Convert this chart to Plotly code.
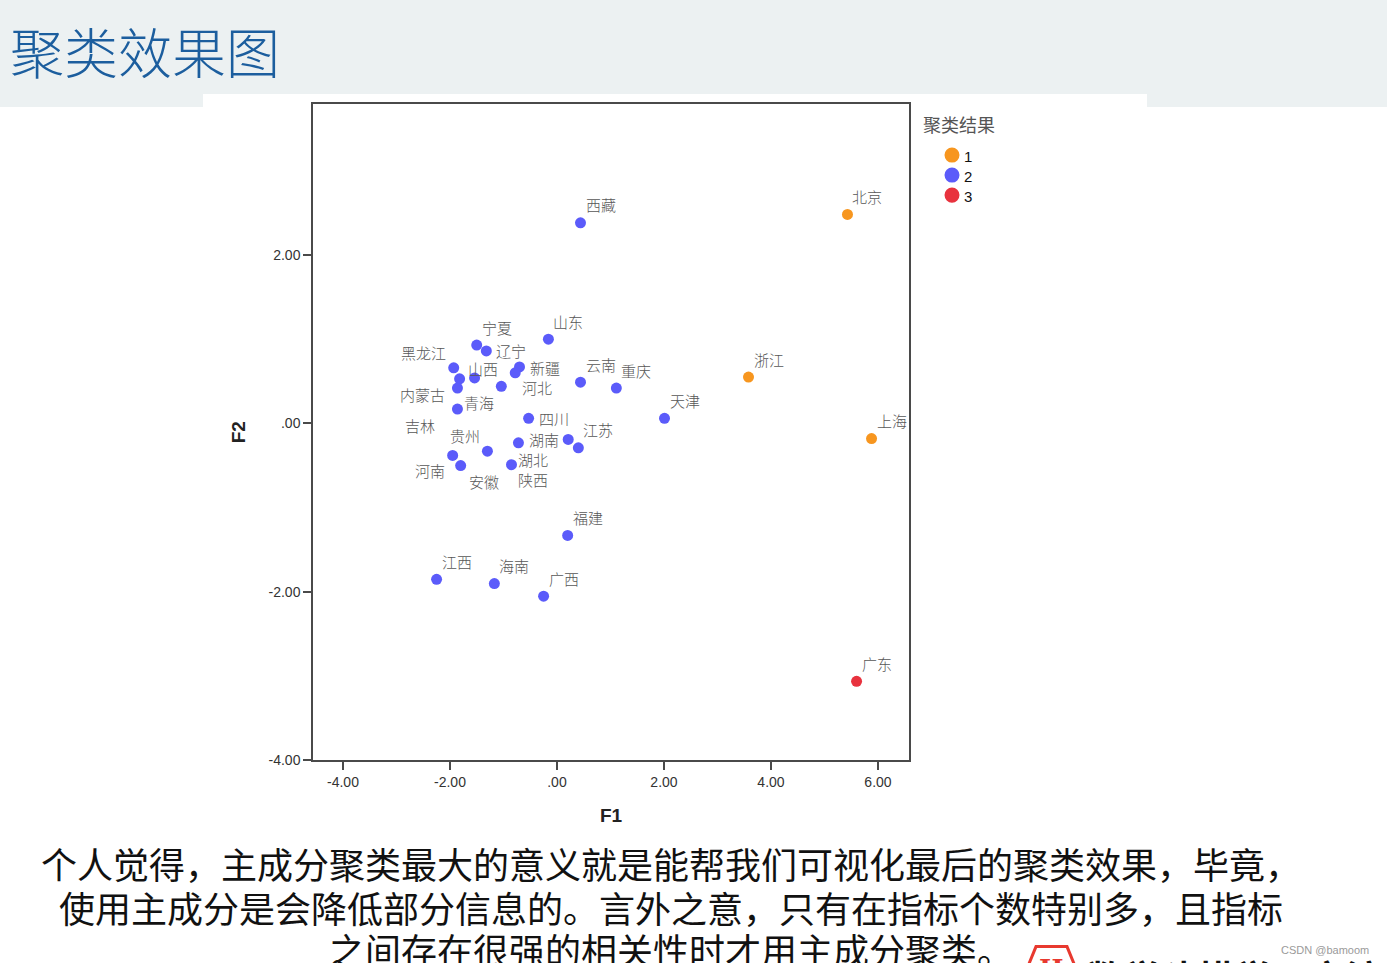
import plotly.graph_objects as go

# ---------------- data ----------------
provinces = ["北京", "浙江", "上海", "广东",
             "西藏", "天津", "福建", "江西", "海南", "广西",
             "宁夏", "辽宁", "山东", "黑龙江", "山西", "甘肃", "内蒙古", "青海",
             "新疆", "河北", "云南", "重庆", "吉林",
             "四川", "湖南", "江苏", "湖北", "贵州", "河南", "安徽", "陕西"]
f1 = [5.43, 3.58, 5.88, 5.60,
      0.44, 2.01, 0.20, -2.25, -1.17, -0.25,
      -1.50, -1.32, -0.16, -1.93, -1.82, -1.54, -1.86, -1.04,
      -0.70, -0.78, 0.44, 1.11, -1.86,
      -0.53, 0.21, 0.40, -0.72, -1.30, -1.95, -1.80, -0.85]
f2 = [2.48, 0.55, -0.18, -3.06,
      2.38, 0.06, -1.33, -1.85, -1.90, -2.05,
      0.93, 0.86, 1.00, 0.66, 0.53, 0.54, 0.42, 0.44,
      0.67, 0.60, 0.49, 0.42, 0.17,
      0.06, -0.19, -0.29, -0.23, -0.33, -0.38, -0.50, -0.49]
cluster = [1, 1, 1, 3,
           2, 2, 2, 2, 2, 2,
           2, 2, 2, 2, 2, 2, 2, 2,
           2, 2, 2, 2, 2,
           2, 2, 2, 2, 2, 2, 2, 2]
hidden_labels = {"甘肃"}

cluster_names = ["1", "2", "3"]
legend_title = "聚类结果"
x_tickvals = [-4, -2, 0, 2, 4, 6]
x_ticktext = ["-4.00", "-2.00", ".00", "2.00", "4.00", "6.00"]
y_tickvals = [2, 0, -2, -4]
y_ticktext = ["2.00", ".00", "-2.00", "-4.00"]

title_text = "聚类效果图"
body_lines = ["个人觉得，主成分聚类最大的意义就是能帮我们可视化最后的聚类效果，毕竟，",
              "使用主成分是会降低部分信息的。言外之意，只有在指标个数特别多，且指标",
              "之间存在很强的相关性时才用主成分聚类。"]

# ---------------- style ----------------
W, H = 1387, 963
K = 1.009  # vertical calibration


def px(x):
    return x / W


def py(y):
    return 1 - y * K / H


colors = {1: "#F7961F", 2: "#5B5BFA", 3: "#E8323E"}
# label placement: (anchor, xshift, yshift) in pixels (yshift: + is up)
default_pos = ("left", 3, 18)
label_pos = {
    "辽宁": ("left", 8, 0), "黑龙江": ("right", -6, 15), "山西": ("left", 6, 10),
    "内蒙古": ("right", -10, -6), "青海": ("right", -5, -16), "新疆": ("left", 8, -1),
    "河北": ("left", 5, -15), "吉林": ("right", -20, -16), "四川": ("left", 8, 0),
    "湖南": ("right", -7, 0), "湖北": ("left", -2, -17), "贵州": ("right", -5, 16),
    "河南": ("right", -6, -15), "安徽": ("left", 6, -16), "陕西": ("left", 5, -15),
}

fig = go.Figure()

for k, cname in enumerate(cluster_names, start=1):
    xs = [x for x, c in zip(f1, cluster) if c == k]
    ys = [y for y, c in zip(f2, cluster) if c == k]
    fig.add_trace(go.Scatter(
        x=xs, y=ys, mode="markers", name=cname, showlegend=False,
        marker=dict(size=11, color=colors[k], line=dict(width=0)),
        hovertext=[p for p, c in zip(provinces, cluster) if c == k],
    ))

x0, x1 = px(313), px(909)
y0, y1 = py(760), py(104)

axis_common = dict(showgrid=False, zeroline=False, showline=True, mirror=True,
                   linecolor="#4a4a4a", linewidth=1.5, ticks="outside",
                   ticklen=8, tickwidth=1.5, tickcolor="#4a4a4a",
                   tickfont=dict(family="Arial, Liberation Sans", size=14, color="#333333"))

fig.update_layout(
    width=W, height=H, margin=dict(l=0, r=0, t=0, b=0),
    paper_bgcolor="white", plot_bgcolor="white", showlegend=False,
    xaxis=dict(domain=[x0, x1], range=[-4.56, 6.58], tickvals=x_tickvals,
               ticktext=x_ticktext, **axis_common),
    yaxis=dict(domain=[y0, y1], range=[-4.0, 3.79], tickvals=y_tickvals,
               ticktext=y_ticktext, **axis_common),
)

shapes = [
    dict(type="rect", xref="paper", yref="paper", x0=0, x1=1, y0=py(94), y1=1,
         fillcolor="#ECF1F2", line=dict(width=0), layer="below"),
    dict(type="rect", xref="paper", yref="paper", x0=0, x1=px(203),
         y0=py(107), y1=py(94), fillcolor="#ECF1F2", line=dict(width=0), layer="below"),
    dict(type="rect", xref="paper", yref="paper", x0=px(1147), x1=1,
         y0=py(107), y1=py(94), fillcolor="#ECF1F2", line=dict(width=0), layer="below"),
    dict(type="path", xref="paper", yref="paper",
         path=f"M {px(1027)},{py(968)} L {px(1036)},{py(946)} L {px(1067)},{py(946)} L {px(1076)},{py(968)}",
         line=dict(color="#E8392F", width=3)),
]

ann = []
# point labels (anchored to data coordinates)
for name, xv, yv in zip(provinces, f1, f2):
    if name in hidden_labels:
        continue
    anchor, dx, dy = label_pos.get(name, default_pos)
    ann.append(dict(text=name, x=xv, y=yv, xref="x", yref="y", showarrow=False,
                    xanchor=anchor, yanchor="middle", xshift=dx, yshift=dy,
                    font=dict(family="Noto Sans CJK SC", size=15, color="#575757", weight=300)))

# manual legend
ann.append(dict(text=legend_title, x=px(921), y=py(124), xref="paper", yref="paper",
                showarrow=False, xanchor="left", yanchor="middle",
                font=dict(family="Noto Sans CJK SC", size=18, color="#555555")))
for i, (cname, yy) in enumerate(zip(cluster_names, [155, 175, 195])):
    r = 7.5
    shapes.append(dict(type="circle", xref="paper", yref="paper",
                       x0=px(952 - r), x1=px(952 + r), y0=py(yy + r), y1=py(yy - r),
                       fillcolor=colors[i + 1], line=dict(width=0)))
    ann.append(dict(text=cname, x=px(962), y=py(yy + 1), xref="paper", yref="paper",
                    showarrow=False, xanchor="left", yanchor="middle",
                    font=dict(family="Arial, Liberation Sans", size=15, color="#111111")))

ann += [
    dict(text=title_text, x=px(8), y=py(50), xref="paper", yref="paper",
         xanchor="left", yanchor="middle", showarrow=False,
         font=dict(family="Noto Sans CJK SC", size=54, color="#1C5E9E", weight=300)),
    dict(text="<b>F2</b>", x=px(238), y=py(432), xref="paper", yref="paper",
         textangle=-90, showarrow=False, xanchor="center", yanchor="middle",
         font=dict(family="Arial, Liberation Sans", size=19, color="#222222")),
    dict(text="<b>F1</b>", x=px(611), y=py(815), xref="paper", yref="paper",
         showarrow=False, xanchor="center", yanchor="middle",
         font=dict(family="Arial, Liberation Sans", size=19, color="#222222")),
    dict(text="<b>H</b>", x=px(1051), y=py(968), xref="paper", yref="paper",
         showarrow=False, xanchor="center", yanchor="middle",
         font=dict(family="DejaVu Serif", size=26, color="#E8392F")),
    dict(text="<b>数学建模学习交流</b>", x=px(1085), y=py(976), xref="paper", yref="paper",
         showarrow=False, xanchor="left", yanchor="middle",
         font=dict(family="Noto Sans CJK SC", size=37, color="#111111")),
    dict(text="CSDN @bamoom", x=px(1371), y=py(949), xref="paper", yref="paper",
         showarrow=False, xanchor="right", yanchor="middle",
         font=dict(family="Arial, Liberation Sans", size=11, color="#9a9a9a")),
]
for txt, yy in zip(body_lines, [862, 906, 948]):
    ann.append(dict(text=txt, x=px(671), y=py(yy), xref="paper", yref="paper",
                    showarrow=False, xanchor="center", yanchor="middle",
                    font=dict(family="Noto Sans CJK SC", size=36, color="#111111")))

fig.update_layout(shapes=shapes, annotations=ann)

fig.write_html("out.html")
